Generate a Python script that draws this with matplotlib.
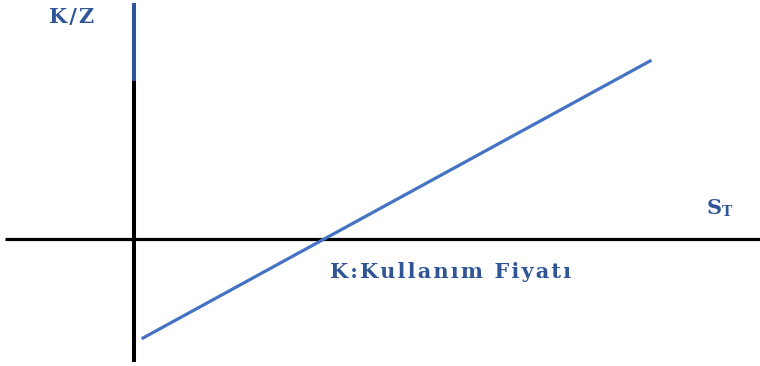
import matplotlib.pyplot as plt

# Vadeli pozisyon kar/zarar doğrusu (eksen orijini: S_T=0, K/Z=0)
spot = [9, 516]
payoff = [-99, 178]
strike = 190

axis_blue = '#2F5597'
line_blue = '#4472C4'


def spaced(s, gap='\u200a'):
    # harf aralığını biraz açmak için
    return gap.join(s)


fig = plt.figure(figsize=(7.6, 3.66), dpi=100)
ax = fig.add_axes([0, 0, 1, 1])
ax.set_xlim(-134, 626)
ax.set_ylim(-127, 239)
ax.axis('off')

# Eksenler
ax.plot([-129, 626], [0, 0], color='black', linewidth=2.3, solid_capstyle='butt')
ax.plot([0, 0], [158, -123], color='black', linewidth=2.9, solid_capstyle='butt')
ax.plot([0, 0], [236, 158], color=axis_blue, linewidth=2.9, solid_capstyle='butt')

# Kar/zarar doğrusu
ax.plot(spot, payoff, color=line_blue, linewidth=2.3)

font = dict(family=['DejaVu Serif'], fontweight='bold', color=axis_blue)
ax.text(-62, 222, spaced('K/Z'), ha='center', va='center', fontsize=15, **font)
ax.text(573, 31, 'S', ha='left', va='center', fontsize=15, **font)
ax.text(588, 27, 'T', ha='left', va='center', fontsize=10, **font)
ax.text(317, -33, spaced('K:Kullanım Fiyatı'), ha='center', va='center',
        fontsize=15, **font)

fig.savefig('out.png', dpi=100)
